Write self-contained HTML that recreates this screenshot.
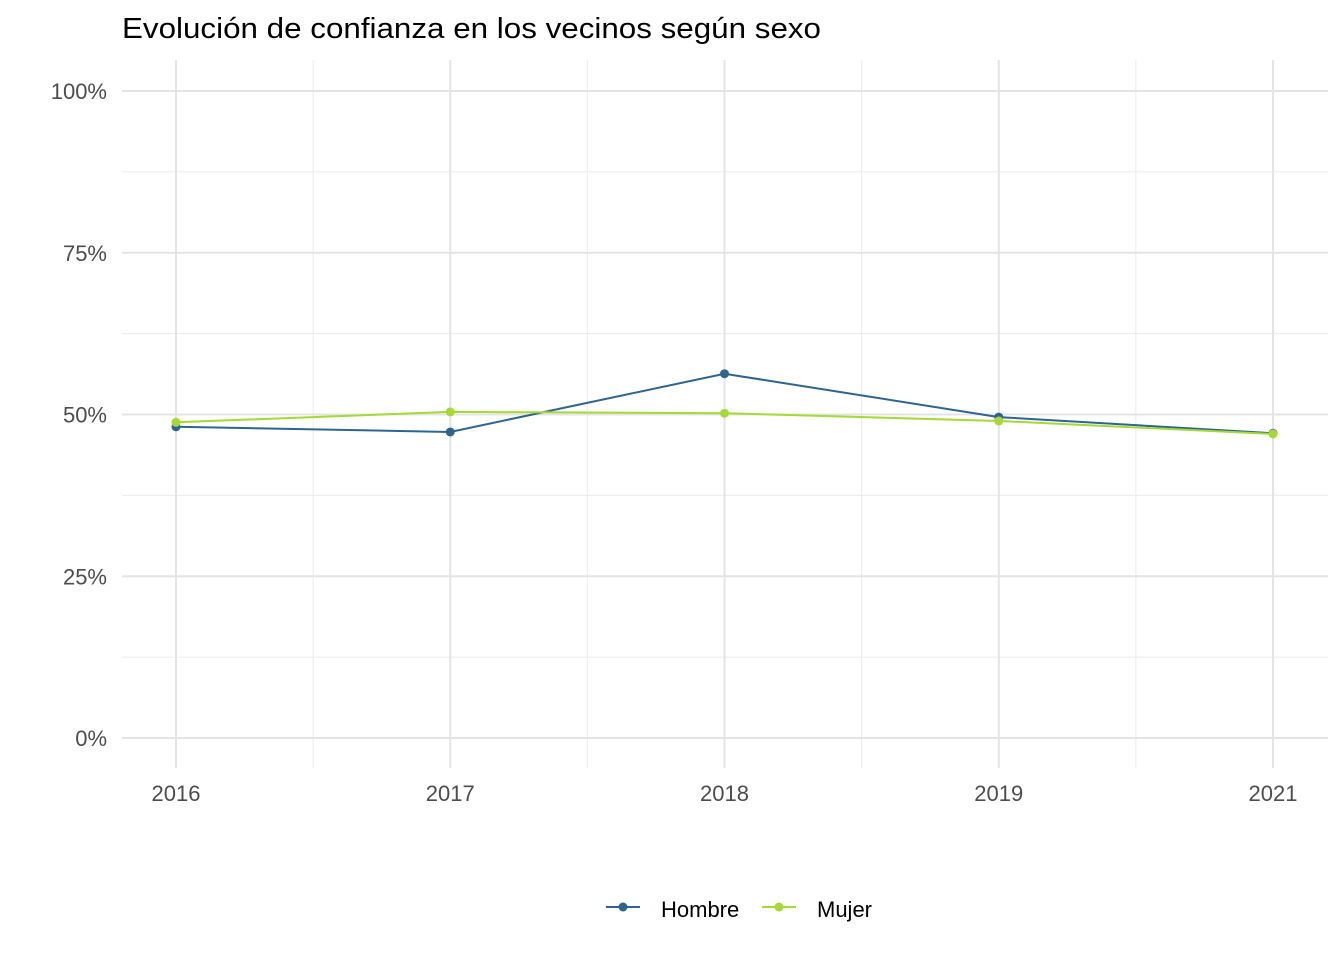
<!DOCTYPE html>
<html><head><meta charset="utf-8"><style>
body{margin:0;background:#fff;}
svg text{font-family:"Liberation Sans",Arial,sans-serif;}
</style></head><body>
<svg width="1344" height="960" xmlns="http://www.w3.org/2000/svg">
<rect width="1344" height="960" fill="#fff"/>
<text x="122" y="38" font-size="29" textLength="699" lengthAdjust="spacingAndGlyphs" fill="#000">Evolución de confianza en los vecinos según sexo</text>
<g id="grid"></g>
<g id="axes"></g>
<g id="series"></g>
<g>
 <g>
  <line x1="606" y1="907" x2="640" y2="907" stroke="#2c6590" stroke-width="2"/>
  <circle cx="623" cy="907" r="4.5" fill="#2c6590"/>
  <text x="661" y="917" font-size="22" fill="#000">Hombre</text>
 </g>
 <g>
  <line x1="762" y1="907" x2="796" y2="907" stroke="#a5d934" stroke-width="2"/>
  <circle cx="779" cy="907" r="4.5" fill="#a5d934"/>
  <text x="817" y="917" font-size="22" fill="#000">Mujer</text>
 </g>
</g>
</svg>
<script>
const categories = ["2016","2017","2018","2019","2021"];
const hombre = [48.1, 47.3, 56.3, 49.6, 47.1];
const mujer = [48.8, 50.4, 50.2, 49.0, 47.0];
const yTicks = [0, 25, 50, 75, 100];
const yTickLabels = ["0%","25%","50%","75%","100%"];

const NS="http://www.w3.org/2000/svg";
const x0=176, dx=274.25;
function xs(i){return x0+i*dx;}
function ys(v){return 738-v*6.47;}
function mk(tag,attrs,parent){const e=document.createElementNS(NS,tag);for(const k in attrs)e.setAttribute(k,attrs[k]);parent.appendChild(e);return e;}
const grid=document.getElementById('grid'), axes=document.getElementById('axes'), series=document.getElementById('series');
for(let i=0;i<yTicks.length-1;i++){const v=(yTicks[i]+yTicks[i+1])/2;
 const l=mk('line',{x1:122,x2:1328,y1:ys(v),y2:ys(v),stroke:'#ebebeb','stroke-width':1},grid);
 
 }
for(let i=0;i<categories.length-1;i++){const x=(xs(i)+xs(i+1))/2;
 const l=mk('line',{x1:x,x2:x,y1:60,y2:768,stroke:'#ebebeb','stroke-width':1},grid);
 
 }
yTicks.forEach((v,i)=>{
 const l=mk('line',{x1:122,x2:1328,y1:ys(v),y2:ys(v),stroke:'#e4e4e4','stroke-width':2},grid);
 
 
 const t=mk('text',{x:107,y:ys(v)+8,'text-anchor':'end','font-size':22,fill:'#4d4d4d'},axes);
 t.textContent=yTickLabels[i];
 
 
});
categories.forEach((c,i)=>{
 const l=mk('line',{x1:xs(i),x2:xs(i),y1:60,y2:768,stroke:'#e4e4e4','stroke-width':2},grid);
 
 
 const t=mk('text',{x:xs(i),y:801,'text-anchor':'middle','font-size':22,fill:'#4d4d4d'},axes);
 t.textContent=c;
 
 
});
function draw(vals,color,name){
 const p=mk('polyline',{points:vals.map((v,i)=>xs(i)+','+ys(v)).join(' '),fill:'none',stroke:color,'stroke-width':2},series);
 
 
 vals.forEach((v,i)=>{const c=mk('circle',{cx:xs(i),cy:ys(v),r:4.5,fill:color},series);
  
  });
}
draw(hombre,'#2c6590','hombre');
draw(mujer,'#a5d934','mujer');
</script>
</body></html>
